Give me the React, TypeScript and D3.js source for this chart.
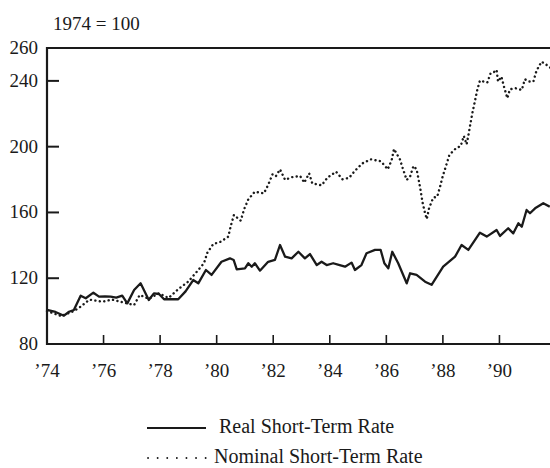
import React from 'react'
import * as d3 from 'd3'

// index, 1974 = 100
const realYears = [
  1974.0, 1974.3, 1974.6, 1974.78, 1974.95, 1975.19, 1975.37, 1975.64, 1975.84, 1976.05,
  1976.25, 1976.45, 1976.66, 1976.84, 1977.08, 1977.31, 1977.6, 1977.78, 1977.96, 1978.14,
  1978.43, 1978.64, 1978.9, 1979.17, 1979.35, 1979.62, 1979.82, 1980.17, 1980.47, 1980.6,
  1980.71, 1981.0, 1981.12, 1981.24, 1981.35, 1981.53, 1981.82, 1982.06, 1982.24, 1982.42,
  1982.65, 1982.89, 1983.12, 1983.3, 1983.54, 1983.71, 1983.89, 1984.12, 1984.35, 1984.54,
  1984.77, 1984.89, 1985.12, 1985.3, 1985.6, 1985.8, 1985.93, 1986.07, 1986.21, 1986.42,
  1986.72, 1986.84, 1987.07, 1987.37, 1987.6, 1988.01, 1988.43, 1988.66, 1988.9, 1989.31,
  1989.55, 1989.9, 1990.02, 1990.31, 1990.49, 1990.67, 1990.79, 1990.96, 1991.08, 1991.26,
  1991.55, 1991.78,
]
const realValues = [
  100.7, 99.5, 97.2, 99.6, 100.7, 109.4, 107.8, 111.2, 108.8, 109,
  108.8, 108.2, 109.4, 104.7, 112.8, 116.9, 106.8, 110.8, 110.4, 107.2,
  107.2, 107.2, 112, 118.9, 116.9, 125, 122, 130, 132.1, 131.1,
  125.4, 126, 129.1, 127, 129.1, 124.6, 130, 131.1, 140.2, 133.1,
  132.1, 136.1, 132.1, 134.7, 128, 130, 128, 129.1, 128, 127,
  129.5, 125, 128, 135.2, 137.2, 137.2, 129.1, 126, 136.1, 129.1,
  116.9, 123, 122, 117.9, 116, 127, 133.1, 140.2, 137.2, 147.7,
  145.3, 149.3, 145.7, 150.4, 147.3, 153.4, 151.3, 161.5, 159.5, 162.5,
  165.6, 163.5,
]

const nominalYears = [
  1974.0, 1974.5, 1974.95, 1975.19, 1975.5, 1975.96, 1976.3, 1976.6, 1977.08, 1977.28,
  1977.6, 1977.96, 1978.3, 1978.64, 1979.0, 1979.3, 1979.55, 1979.67, 1979.88, 1980.14,
  1980.41, 1980.5, 1980.61, 1980.85, 1980.97, 1981.12, 1981.35, 1981.67, 1981.82, 1981.98,
  1982.1, 1982.24, 1982.42, 1982.65, 1982.95, 1983.1, 1983.27, 1983.38, 1983.71, 1983.92,
  1984.22, 1984.45, 1984.68, 1984.89, 1985.16, 1985.45, 1985.81, 1986.05, 1986.19, 1986.27,
  1986.48, 1986.6, 1986.72, 1986.84, 1986.96, 1987.07, 1987.15, 1987.22, 1987.28, 1987.37,
  1987.43, 1987.51, 1987.66, 1987.8, 1987.9, 1987.99, 1988.11, 1988.23, 1988.46, 1988.63,
  1988.74, 1988.84, 1988.91, 1988.98, 1989.05, 1989.13, 1989.21, 1989.31, 1989.57, 1989.69,
  1989.8, 1989.9, 1989.95, 1990.07, 1990.16, 1990.28, 1990.37, 1990.58, 1990.79, 1990.9,
  1991.05, 1991.2, 1991.31, 1991.49, 1991.67, 1991.8,
]
const nominalValues = [
  100, 97, 100, 102.7, 107, 105.7, 107, 105.7, 103.7, 109.8,
  107.5, 110.8, 108, 113.3, 118, 124, 129.1, 135.5, 140.8, 142.2,
  145.3, 151.8, 158.5, 155, 161.9, 168, 172.6, 171.6, 176.7, 183.4,
  182.2, 186.2, 179.8, 181.4, 182.2, 178.1, 183.8, 177.7, 176.5, 181.2,
  184.8, 180.2, 181, 185.4, 189.9, 192.3, 191.1, 186.2, 191.9, 198.6,
  192.3, 185.8, 179.8, 181.8, 188.3, 186.2, 179.3, 172.6, 166.2, 159.5,
  156, 162.5, 169, 169.6, 175.7, 181.8, 188.3, 195, 199, 200.4,
  206.5, 201.4, 207.7, 214.6, 221.1, 227.4, 234.1, 240.2, 239, 244.7,
  245.3, 246.7, 239.6, 242.6, 236.5, 229.5, 234.9, 235.5, 234.5, 241,
  239.6, 239.6, 246.2, 251.7, 249.7, 248,
]

const yTickLabels = [260, 240, 200, 160, 120, 80]
const xTickYears = [1974, 1976, 1978, 1980, 1982, 1984, 1986, 1988, 1990]
const legendLabels = ['Real Short-Term Rate', 'Nominal Short-Term Rate']

const W = 550
const H = 468
const font = '"Liberation Serif", "DejaVu Serif", serif'
const ink = '#1a1a1a'

export default function App() {
  const x = d3.scaleLinear().domain([1974, 1992]).range([47, 556])
  const y = d3.scaleLinear().domain([80, 260]).range([344, 48])

  const real = realYears.map((yr, i) => [yr, realValues[i]] as [number, number])
  const nominal = nominalYears.map((yr, i) => [yr, nominalValues[i]] as [number, number])

  const line = d3
    .line<[number, number]>()
    .x(d => x(d[0]))
    .y(d => y(d[1]))

  const [x0, x1] = [x(1974), W]
  const [yTop, yBottom] = [y(260), y(80)]

  return (
    <>
      <style>{'body{margin:0}'}</style>
      <svg width={W} height={H} style={{ display: 'block', background: '#fff' }} fontFamily={font}>
        <text x={53} y={30} fontSize={19} fill={ink}>
          1974 = 100
        </text>

        {/* frame */}
        <line x1={x0} x2={x1} y1={yTop} y2={yTop} stroke={ink} strokeWidth={2.2} />
        <line x1={x0} x2={x1} y1={yBottom} y2={yBottom} stroke={ink} strokeWidth={2.2} />
        <line x1={x0} x2={x0} y1={yTop - 1} y2={yBottom + 1} stroke={ink} strokeWidth={2.2} />

        {/* y axis */}
        {yTickLabels.map(v => (
          <g key={v}>
            {v !== 260 && v !== 80 && (
              <line x1={x0} x2={x0 + 12} y1={y(v)} y2={y(v)} stroke={ink} strokeWidth={2} />
            )}
            <text x={38} y={y(v) + 6} fontSize={19} textAnchor='end' fill={ink}>
              {v}
            </text>
          </g>
        ))}

        {/* x axis */}
        {xTickYears.map(yr => (
          <g key={yr}>
            {yr !== 1974 && (
              <line x1={x(yr)} x2={x(yr)} y1={yBottom} y2={yBottom - 9} stroke={ink} strokeWidth={1.6} />
            )}
            <text x={x(yr)} y={377} fontSize={19} textAnchor='middle' fill={ink}>
              {'\u2019' + String(yr).slice(2)}
            </text>
          </g>
        ))}

        {/* series */}
        <path
          d={line(nominal) ?? ''}
          fill='none'
          stroke={ink}
          strokeWidth={2.4}
          strokeDasharray='0.1 4.4'
          strokeLinecap='round'
        />
        <path d={line(real) ?? ''} fill='none' stroke={ink} strokeWidth={2.3} strokeLinejoin='round' />

        {/* legend */}
        <line x1={147} x2={206} y1={428} y2={428} stroke={ink} strokeWidth={1.8} />
        <text x={219} y={433} fontSize={20} fill={ink}>
          {legendLabels[0]}
        </text>
        <line
          x1={148}
          x2={206}
          y1={458}
          y2={458}
          stroke={ink}
          strokeWidth={1.8}
          strokeDasharray='0.1 9.5'
          strokeLinecap='round'
        />
        <text x={214} y={463} fontSize={20} fill={ink}>
          {legendLabels[1]}
        </text>
      </svg>
    </>
  )
}
